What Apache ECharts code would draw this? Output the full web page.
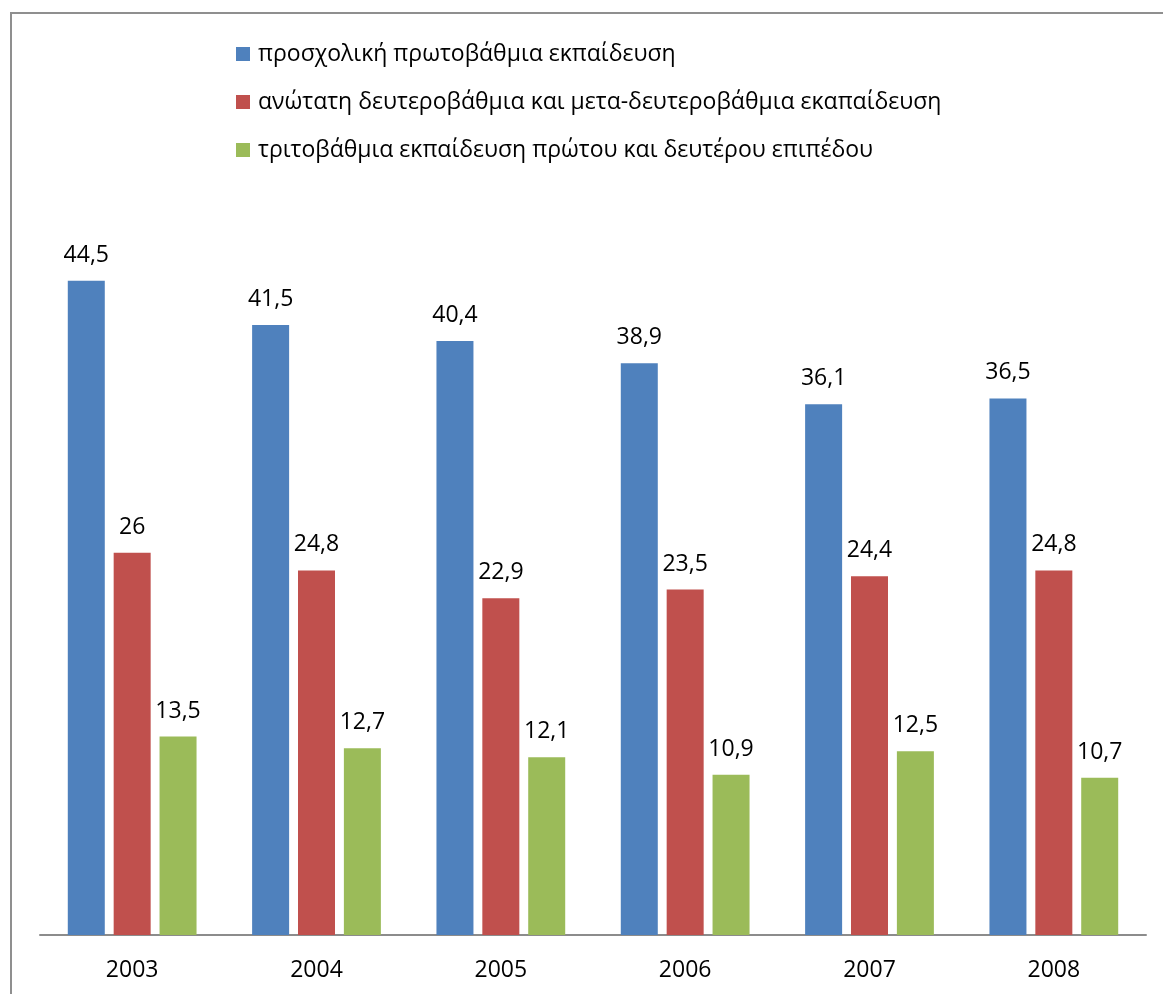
<!DOCTYPE html>
<html>
<head>
<meta charset="utf-8">
<script src="https://cdn.jsdelivr.net/npm/echarts@6/dist/echarts.min.js"></script>
<style>
html,body{margin:0;padding:0;background:#fff;}
#chart{width:1163px;height:994px;}
</style>
</head>
<body>
<div id="chart"></div>
<script>
const years = ['2003', '2004', '2005', '2006', '2007', '2008'];
const seriesNames = [
  'προσχολική πρωτοβάθμια εκπαίδευση',
  'ανώτατη δευτεροβάθμια και μετα-δευτεροβάθμια εκαπαίδευση',
  'τριτοβάθμια εκπαίδευση πρώτου και δευτέρου επιπέδου'
];
const preschoolPrimary = [44.5, 41.5, 40.4, 38.9, 36.1, 36.5];
const upperSecondary = [26, 24.8, 22.9, 23.5, 24.4, 24.8];
const tertiary = [13.5, 12.7, 12.1, 10.9, 12.5, 10.7];
const colors = ['#4F81BD', '#C0504D', '#9BBB59'];

const FONT = '"Open Sans", sans-serif';
const chart = echarts.init(document.getElementById('chart'));

function mk(name, data, color) {
  return {
    name: name,
    type: 'bar',
    data: data,
    barWidth: 37,
    barGap: '24%',
    itemStyle: { color: color },
    label: {
      show: true,
      position: 'top',
      distance: 14,
      color: '#000',
      fontFamily: FONT,
      fontSize: 23,
      formatter: p => String(p.value).replace('.', ',')
    }
  };
}

chart.setOption({
  animation: false,
  backgroundColor: '#fff',
  graphic: [{
    type: 'rect',
    shape: { x: 11, y: 13, width: 1300, height: 1200 },
    style: { fill: 'none', stroke: '#8f8f8f', lineWidth: 2 },
    silent: true
  }],
  legend: {
    orient: 'vertical',
    left: 231,
    top: 37,
    itemWidth: 14,
    itemHeight: 14,
    itemGap: 24,
    icon: 'rect',
    textStyle: { fontFamily: FONT, fontSize: 23, color: '#000', lineHeight: 24, padding: [0, 0, 0, 3] },
    data: seriesNames
  },
  grid: { left: 40, right: 17, top: 200, bottom: 59, containLabel: false },
  xAxis: {
    type: 'category',
    data: years,
    axisLine: { show: true, lineStyle: { color: '#8c8c8c', width: 2 } },
    axisTick: { show: false },
    axisLabel: { color: '#000', fontFamily: FONT, fontSize: 23, margin: 24 }
  },
  yAxis: {
    type: 'value',
    min: 0,
    max: 50,
    show: false,
    splitLine: { show: false }
  },
  series: [
    mk(seriesNames[0], preschoolPrimary, colors[0]),
    mk(seriesNames[1], upperSecondary, colors[1]),
    mk(seriesNames[2], tertiary, colors[2])
  ]
});
</script>
</body>
</html>
